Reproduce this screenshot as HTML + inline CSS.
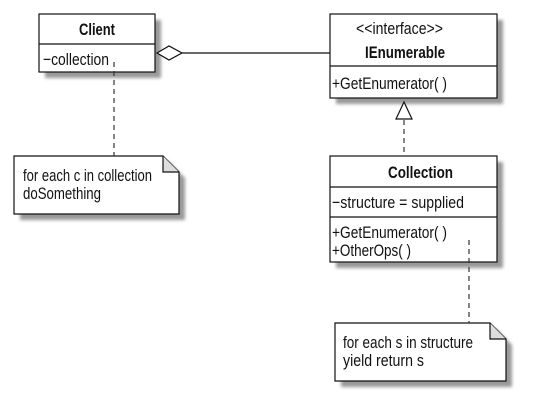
<!DOCTYPE html>
<html><head><meta charset="utf-8"><style>
html,body{margin:0;padding:0;background:#fff;}
body{width:544px;height:402px;overflow:hidden;}
text{font-family:"Liberation Sans",sans-serif;font-size:17px;fill:#111;}
.b{font-weight:bold;}
</style></head><body>
<svg width="544" height="402" xmlns="http://www.w3.org/2000/svg">
<defs><filter id="bl"><feGaussianBlur stdDeviation="1.5"/></filter></defs>
<g fill="#999" filter="url(#bl)">
<rect x="45" y="20" width="116" height="58"/>
<rect x="336" y="20" width="167" height="84"/>
<rect x="336" y="162" width="167" height="106"/>
<path d="M20 162 H169 L185 178 V220 H20 Z"/>
<path d="M341 329 H496 L512 345 V387 H341 Z"/>
</g>
<g stroke="#111" stroke-width="1.2" fill="#fff">
<rect x="39" y="14" width="116" height="58"/>
<line x1="39" y1="44" x2="155" y2="44"/>
<rect x="330" y="14" width="167" height="84"/>
<line x1="330" y1="66" x2="497" y2="66"/>
<rect x="330" y="156" width="167" height="106"/>
<line x1="330" y1="187" x2="497" y2="187"/>
<line x1="330" y1="217" x2="497" y2="217"/>
<path d="M14 156 H163 L179 172 V214 H14 Z"/>
<path d="M163 156 V172 H179" fill="#ddd"/>
<path d="M335 323 H490 L506 339 V381 H335 Z"/>
<path d="M490 323 V339 H506" fill="#ddd"/>
<line x1="182" y1="53" x2="330" y2="53"/>
<path d="M157 53 L169 46 L182 53 L169 60 Z"/>
<path d="M404 102 L396 119 L412 119 Z"/>
</g>
<g stroke="#333" stroke-width="1.2" stroke-dasharray="5,4" fill="none">
<line x1="114" y1="62" x2="114" y2="156"/>
<line x1="404" y1="120" x2="404" y2="156"/>
<line x1="469" y1="240" x2="469" y2="323"/>
</g>
<text x="79" y="35" class="b" textLength="36" lengthAdjust="spacingAndGlyphs">Client</text>
<text x="43" y="65" textLength="66" lengthAdjust="spacingAndGlyphs">−collection</text>
<text x="356" y="34" textLength="87" lengthAdjust="spacingAndGlyphs">&lt;&lt;interface&gt;&gt;</text>
<text x="365" y="58" class="b" textLength="80" lengthAdjust="spacingAndGlyphs">IEnumerable</text>
<text x="332" y="89" textLength="115" lengthAdjust="spacingAndGlyphs">+GetEnumerator( )</text>
<text x="388" y="178" class="b" textLength="65" lengthAdjust="spacingAndGlyphs">Collection</text>
<text x="332" y="208" textLength="132" lengthAdjust="spacingAndGlyphs">−structure = supplied</text>
<text x="332" y="238" textLength="115" lengthAdjust="spacingAndGlyphs">+GetEnumerator( )</text>
<text x="332" y="256" textLength="79" lengthAdjust="spacingAndGlyphs">+OtherOps( )</text>
<text x="23" y="181" textLength="129" lengthAdjust="spacingAndGlyphs">for each c in collection</text>
<text x="23" y="199" textLength="78" lengthAdjust="spacingAndGlyphs">doSomething</text>
<text x="343" y="348" textLength="130" lengthAdjust="spacingAndGlyphs">for each s in structure</text>
<text x="343" y="366" textLength="81" lengthAdjust="spacingAndGlyphs">yield return s</text>
</svg>
</body></html>
